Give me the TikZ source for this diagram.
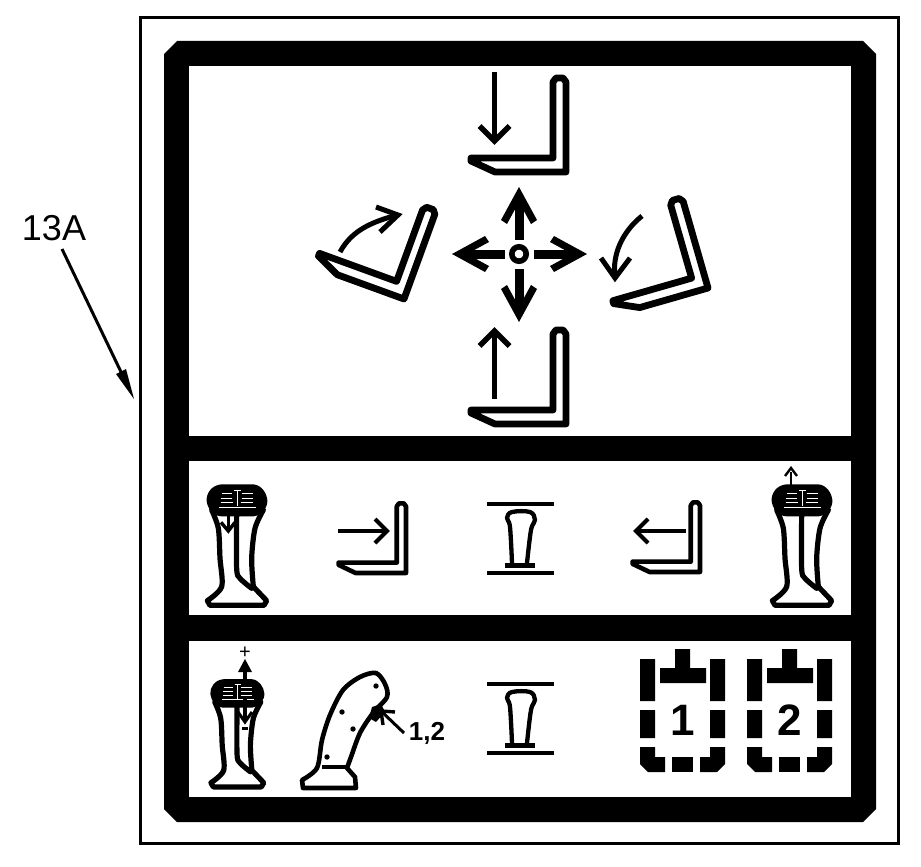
\documentclass[tikz,border=0pt]{standalone}
\usepackage{fontspec}
\setmainfont{Liberation Sans}
\tikzset{
  frameline/.style={draw=black,line width=3pt},
  band/.style={fill=black},
  panel/.style={fill=white},
  forkline/.style={draw=black,line join=round,line cap=round},
  bigshaft/.style={draw=black,line width=5.6pt},
  bighead/.style={draw=black,line width=5.6pt,line join=miter},
  thinshaft/.style={draw=black,line width=4pt},
  vhead/.style={draw=black,line width=4pt,line join=miter},
  curveline/.style={draw=black,line width=5pt},
  handleline/.style={draw=black,line width=5.2pt,line join=round,line cap=round},
  bar/.style={draw=black,line width=4.6pt},
  batt/.style={fill=black},
  label/.style={font=\bfseries,inner sep=0pt,text=black}
}
% lift fork, corner at local origin
\newcommand{\forkshape}[1]{%
  \draw[forkline,line width=#1] (-95,-14) -- (-13,-14) -- (-13,-90) -- (-10,-94) -- (-3,-94) -- (0,-90) -- (0,0) -- (-71,0) -- (-95,-11) -- cycle;}
\newcommand{\vtip}[4][vhead]{% style, tip at #2, rotation #3, size #4
  \begin{scope}[shift={#2},rotate=#3]
    \draw[#1] (-#4,-#4) -- (0,0) -- (-#4,#4);
  \end{scope}}
% big four-way arrow
\newcommand{\bigarrow}[2]{% tip, rotation (points along +x before rotation)
  \begin{scope}[shift={#1},rotate=#2]
    \fill[black] (0,0) -- (-33,18) -- (-37,12) -- (-15,0) -- (-37,-12) -- (-33,-18) -- cycle;
    \fill[black] (-53,-4.5) rectangle (-12,4.5);
  \end{scope}}
% joystick in 3x local units
\newcommand{\handlebody}{%
  \draw[handleline] plot[smooth,tension=.5] coordinates {(65,135) (85,190) (90,280) (95,365) (52,407)} -- (60,421) -- (222,421) -- (230,407) -- plot[smooth,tension=.5] coordinates {(190,365) (185,280) (195,190) (220,135)};
  \draw[handleline] plot[smooth,tension=.5] coordinates {(140,150) (140,310) (150,340) (185,370)};
  \fill[black] (95,58) .. controls (65,60) and (48,85) .. (50,108) .. controls (52,130) and (70,154) .. (95,154) -- (190,154) .. controls (212,152) and (234,130) .. (232,105) .. controls (230,85) and (215,60) .. (190,58) -- cycle;
  \draw[white,line width=.9pt] (95,85) -- (125,85) (155,85) -- (190,85) (92,99) -- (125,99) (155,99) -- (190,99) (92,113) -- (128,113) (152,113) -- (190,113) (132,76) -- (152,76);
  \draw[white,line width=1pt] (142,76) -- (142,124) (88,127) -- (198,127);
}
\newcommand{\neutral}{%
  \draw[bar] (487,504) -- (554,504) (487,573) -- (554,573);
  \draw[black,line width=4.3pt,line join=round] plot[smooth,tension=.6] coordinates {(512,563) (510,527) (507,518) (512,512) (530,512) (535,520) (531,530) (527,563)};
  \draw[black,line width=5pt] (505,565) -- (535,565);
}
\newcommand{\battery}[2]{% shift, number
  \begin{scope}[shift={#1}]
    \fill[batt] (675,649) rectangle (690,668) (660,668) rectangle (706,683);
    \fill[batt] (640,659) rectangle (655,701) (710,659) rectangle (725,701);
    \fill[batt] (640,710) rectangle (655,738) (710,710) rectangle (725,738);
    \fill[batt] (640,747) -- (655,747) -- (655,757) -- (665,757) -- (665,772) -- (648,772) -- (640,764) -- cycle;
    \fill[batt] (672,757) rectangle (693,772);
    \fill[batt] (725,747) -- (710,747) -- (710,757) -- (700,757) -- (700,772) -- (717,772) -- (725,764) -- cycle;
    \node[label,font=\bfseries\fontsize{44}{44}\selectfont] (n#2) at (682.5,720) {#2};
  \end{scope}}
\begin{document}
\begin{tikzpicture}[x=1pt,y=-1pt]
\useasboundingbox (0,0) rectangle (921,867);
\fill[white] (0,0) rectangle (921,867);
\draw[frameline] (140.5,17.5) rectangle (898.5,843);
\fill[band] (177,41) -- (863,41) -- (876,54) -- (876,809) -- (863,822) -- (177,822) -- (164,809) -- (164,54) -- cycle;
\fill[panel] (189,66) rectangle (851,436);
\fill[panel] (189,461) rectangle (851,615);
\fill[panel] (189,641) rectangle (851,797);

% label 13A
\node[inner sep=0pt,font=\fontsize{36}{36}\selectfont] (lbl) at (54,228) {13A};
\coordinate (lbltip) at (134,399);
\draw[black,line width=3pt,shorten >=12pt] (62,249) -- (lbltip);
\fill[black] (lbltip) -- (116,374) -- (126,369) -- cycle;

% large forks
\begin{scope}[shift={(566,172)}]\forkshape{6.8pt}\end{scope}
\begin{scope}[shift={(566,424)}]\forkshape{6.8pt}\end{scope}
\begin{scope}[shift={(404,299)},rotate=-20]\forkshape{6.8pt}\end{scope}
\begin{scope}[shift={(708,288)},rotate=16]\forkshape{6.8pt}\end{scope}
% small forks
\begin{scope}[shift={(406,573)},xscale=.71,yscale=.74]\forkshape{4.6pt}\end{scope}
\begin{scope}[shift={(700,572)},xscale=.71,yscale=.74]\forkshape{4.6pt}\end{scope}

% fork arrows
\draw[bigshaft] (494.5,72) -- (494.5,140);\vtip[bighead]{(494.5,141)}{-90}{15}
\draw[bigshaft] (494.5,399) -- (494.5,332);\vtip[bighead]{(494.5,331)}{90}{15}
\draw[thinshaft] (338,531) -- (386,531);\vtip{(387,531)}{0}{12}
\draw[thinshaft] (686,531) -- (637,531);\vtip{(636,531)}{180}{12}
\draw[curveline] (340,252) .. controls (352,230) and (372,222) .. (397,215);
\draw[curveline,line join=miter] (376,207) -- (398,215) -- (380,232);
\draw[curveline] (642,216) .. controls (622,232) and (612,255) .. (615,277);
\draw[curveline,line join=miter] (601,258) -- (615,278) -- (630,258);

% centre
\bigarrow{(519,187)}{90}
\bigarrow{(519,322)}{-90}
\bigarrow{(452,254)}{180}
\bigarrow{(587,254)}{0}
\draw[black,line width=5.6pt] (519,254) circle (7.2);

% joysticks
\begin{scope}[shift={(190,465)},scale=1/3]
  \handlebody
  \draw[black,line width=3.6pt] (115,150) -- (115,190);
  \draw[black,line width=3.4pt] (93,172) -- (115,198) -- (135,172);
\end{scope}
\begin{scope}[shift={(755,465)},scale=1/3]
  \handlebody
\end{scope}
\draw[black,line width=2.5pt] (791,485) -- (791,472);
\draw[black,line width=2.4pt] (785,476) -- (791,468) -- (797,476);
\begin{scope}[shift={(195.5,662)},scale=.2967]
  \handlebody
\end{scope}
\draw[black,line width=3.2pt] (245,681) -- (245,662);
\fill[black] (245,659) -- (238,672) -- (252,672) -- cycle;
\draw[black,line width=3.6pt] (245,698) -- (245,720);
\draw[black,line width=3pt] (238,712) -- (245,722) -- (252,712);
\node[label,font=\fontsize{20}{20}\selectfont] (plus) at (245,653) {+};
\fill[black] (242,727) rectangle (248,730);

% side view
\draw[black,line width=4.6pt,line join=round,fill=white] plot[smooth,tension=.5] coordinates {(302,780) (317,768) (322,740) (330,715) (343,690) (360,677) (376,673) (385,684) (387,697) (373,713) (360,733) (351,757) (347,768)} -- (355,777) -- (356,788) -- (303,788) -- cycle;
\draw[black,line width=3.6pt] (322,767) -- (347,767);
\foreach \p in {(376,686),(342,712),(353,729),(327,757)} \fill[black] \p circle (2.7);
\fill[black] (372,707) -- (381,704) -- (385,712) -- (376,722) -- (369,718) -- cycle;
\node[label,font=\bfseries\fontsize{26}{26}\selectfont] (num) at (427,733) {1,2};
\coordinate (numtip) at (381,711);
\draw[black,line width=3pt,shorten >=3pt] (404,733) -- (numtip);
\draw[black,line width=3.4pt] (383,725) -- (381,711) -- (395,712);

% neutral symbols
\neutral
\begin{scope}[yshift=-180pt]\neutral\end{scope}

% batteries
\battery{(0,0)}{1}
\battery{(107,0)}{2}
\end{tikzpicture}
\end{document}
